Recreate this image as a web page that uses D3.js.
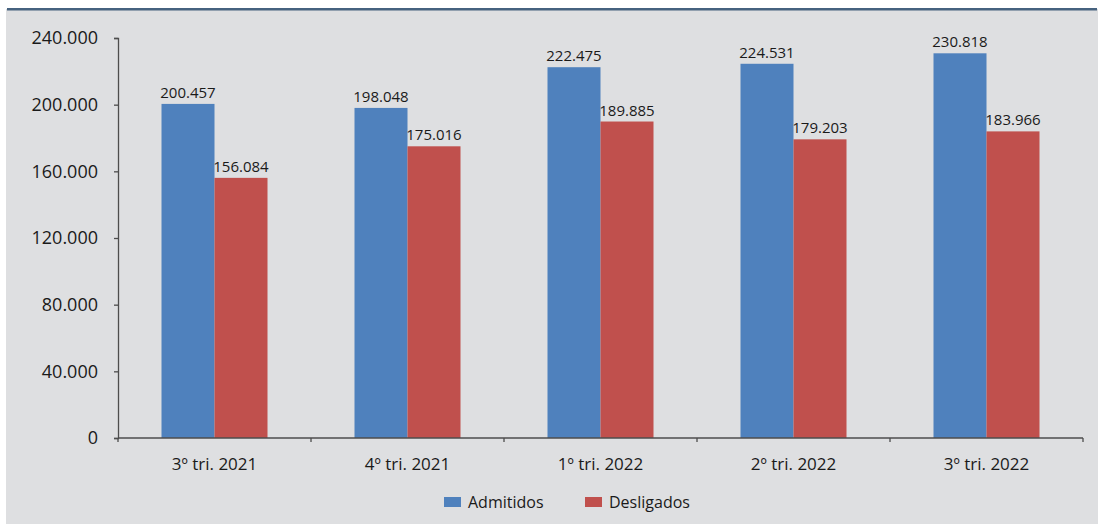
<!DOCTYPE html>
<html>
<head>
<meta charset="utf-8">
<script src="https://cdn.jsdelivr.net/npm/d3@7"></script>
<style>
  html, body { margin: 0; padding: 0; background: #ffffff; }
  svg { display: block; font-family: "Open Sans", "Noto Sans", sans-serif; }
</style>
</head>
<body>
<svg id="chart" width="1099" height="525"></svg>
<script>
// Trimestres e movimentação de pessoal
const categories = ["3º tri. 2021", "4º tri. 2021", "1º tri. 2022", "2º tri. 2022", "3º tri. 2022"];
const seriesNames = ["Admitidos", "Desligados"];
const admitidos = [200457, 198048, 222475, 224531, 230818];
const desligados = [156084, 175016, 189885, 179203, 183966];
const yTicks = [0, 40000, 80000, 120000, 160000, 200000, 240000];
const colors = ["#4F81BD", "#C0504D"];

const svg = d3.select("#chart");
const W = 1099, H = 525;

// panel background and top rule
svg.append("rect").attr("x", 6).attr("y", 9).attr("width", 1092).attr("height", 515)
  .attr("fill", "#DEDFE1");
svg.append("rect").attr("x", 7).attr("y", 8).attr("width", 1090).attr("height", 2.5)
  .attr("fill", "#46627F");

const margin = { left: 118, right: 16, top: 38, bottom: 87 };
const x0 = d3.scaleBand().domain(categories).range([margin.left, W - margin.right]).paddingInner(0).paddingOuter(0);
const groupWidth = 106;
const x1 = d3.scaleBand().domain(seriesNames).range([0, groupWidth]);
const y = d3.scaleLinear().domain([0, 240000]).range([H - margin.bottom, margin.top]);

const fmt = v => d3.format(",")(v).replace(/,/g, ".");

const rows = categories.map((c, i) => ({ cat: c, values: [admitidos[i], desligados[i]] }));

// bars
const g = svg.append("g");
const groups = g.selectAll("g.grp").data(rows).join("g")
  .attr("transform", d => `translate(${x0(d.cat) + (x0.bandwidth() - groupWidth) / 2},0)`);

groups.selectAll("rect").data(d => d.values.map((v, k) => ({ k, v }))).join("rect")
  .attr("x", d => x1(seriesNames[d.k]))
  .attr("width", x1.bandwidth())
  .attr("y", d => y(d.v))
  .attr("height", d => y(0) - y(d.v))
  .attr("fill", d => colors[d.k]);

groups.selectAll("text").data(d => d.values.map((v, k) => ({ k, v }))).join("text")
  .attr("x", d => x1(seriesNames[d.k]) + x1.bandwidth() / 2)
  .attr("y", d => y(d.v) - 6)
  .attr("text-anchor", "middle")
  .attr("font-size", 15)
  .attr("fill", "#1a1a1a")
  .text(d => fmt(d.v));

// y axis
const yAxis = d3.axisLeft(y).tickValues(yTicks).tickSize(4).tickPadding(16)
  .tickFormat(v => v === 0 ? "0" : fmt(v));
const ya = svg.append("g").attr("transform", `translate(${margin.left},0)`).call(yAxis);
ya.select(".domain").attr("stroke", "#4d4d4d").attr("stroke-width", 1.3);
ya.selectAll(".tick line").attr("stroke", "#4d4d4d").attr("stroke-width", 1.3);
ya.selectAll(".tick text").attr("font-size", 18).attr("fill", "#1a1a1a")
  .attr("font-family", "'Open Sans', sans-serif");

// x axis: ticks at category boundaries
const xa = svg.append("g").attr("transform", `translate(0,${y(0)})`);
xa.append("line").attr("x1", margin.left).attr("x2", W - margin.right)
  .attr("stroke", "#4d4d4d").attr("stroke-width", 1.5);
const bounds = categories.map(c => x0(c)).concat([x0(categories[categories.length - 1]) + x0.bandwidth()]);
xa.selectAll("line.tk").data(bounds).join("line").attr("class", "tk")
  .attr("x1", d => d).attr("x2", d => d).attr("y1", 0).attr("y2", 4)
  .attr("stroke", "#4d4d4d").attr("stroke-width", 1.3);
xa.selectAll("text").data(categories).join("text")
  .attr("x", d => x0(d) + x0.bandwidth() / 2)
  .attr("y", 32)
  .attr("text-anchor", "middle")
  .attr("font-size", 17)
  .attr("fill", "#1a1a1a")
  .text(d => d);

// legend
const legend = svg.append("g").attr("transform", "translate(444,497)");
const items = legend.selectAll("g").data(seriesNames).join("g")
  .attr("transform", (d, i) => `translate(${i * 141},0)`);
items.append("rect").attr("width", 17).attr("height", 10).attr("fill", (d, i) => colors[i]);
items.append("text").attr("x", 24).attr("y", 11).attr("font-size", 16).attr("fill", "#1a1a1a").text(d => d);
</script>
</body>
</html>
